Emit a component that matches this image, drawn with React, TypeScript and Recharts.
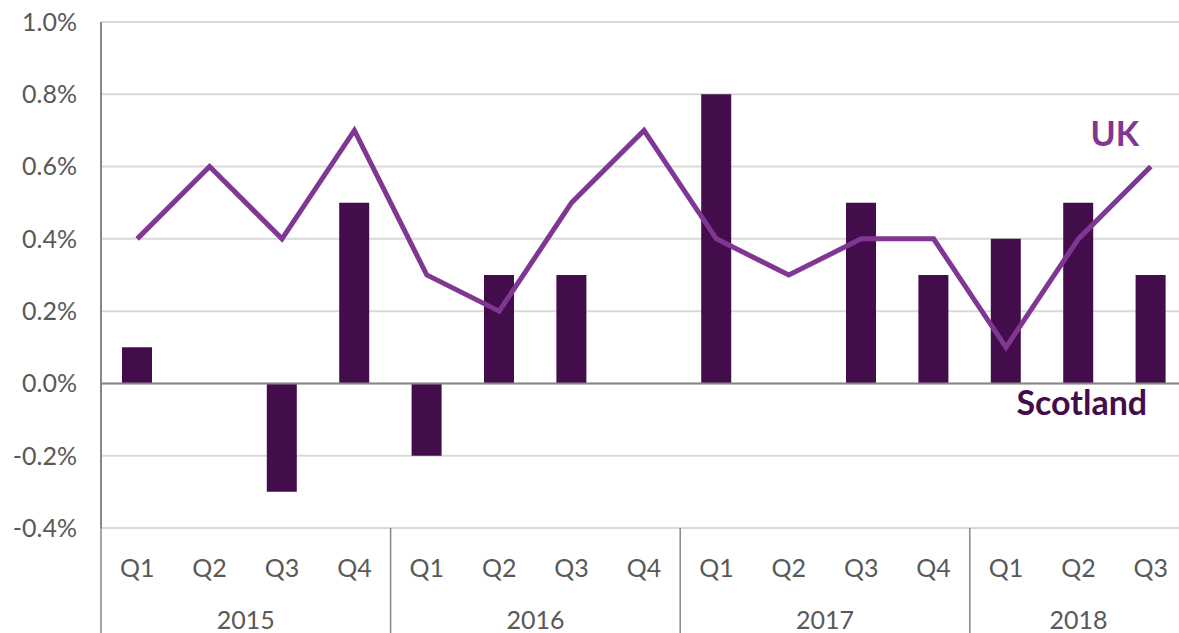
// Quarterly GDP growth: Scotland (bars) vs UK (line), 2015 Q1 – 2018 Q3.

import {
  Bar,
  CartesianGrid,
  ComposedChart,
  Line,
  ReferenceLine,
  XAxis,
  YAxis,
} from "recharts";

const quarters = ["Q1", "Q2", "Q3", "Q4", "Q1", "Q2", "Q3", "Q4", "Q1", "Q2", "Q3", "Q4", "Q1", "Q2", "Q3"];
const years = ["2015", "2015", "2015", "2015", "2016", "2016", "2016", "2016", "2017", "2017", "2017", "2017", "2018", "2018", "2018"];
const scotland = [0.1, 0, -0.3, 0.5, -0.2, 0.3, 0.3, 0, 0.8, 0, 0.5, 0.3, 0.4, 0.5, 0.3];
const uk = [0.4, 0.6, 0.4, 0.7, 0.3, 0.2, 0.5, 0.7, 0.4, 0.3, 0.4, 0.4, 0.1, 0.4, 0.6];
const yTicks = [-0.4, -0.2, 0, 0.2, 0.4, 0.6, 0.8, 1.0];

const data = quarters.map((q, i) => ({
  q,
  year: years[i],
  scotland: scotland[i],
  uk: uk[i],
}));

const W = 1187;
const H = 633;
const LEFT = 101;
const TOP = 22;
const QH = 52;
const YH = 53;
const PLOT_BOTTOM = H - QH - YH;
const BAND = (W - LEFT) / quarters.length;

const FONT = "Lato, 'Open Sans', sans-serif";
const FS = 25;
const GREY = "#595959";
const AXIS = "#878787";
const BAR = "#430d4b";
const LINE = "#7f3793";

function QuarterTick(props: any) {
  const { x, payload } = props;
  return (
    <text x={x} y={PLOT_BOTTOM + 49} textAnchor="middle" fill={GREY} fontSize={FS} fontFamily={FONT}>
      {payload.value}
    </text>
  );
}

function YearTick(props: any) {
  const { x, index } = props;
  const yr = years[index];
  if (index > 0 && years[index - 1] === yr) return null;
  const count = years.filter((y) => y === yr).length;
  const left = x - BAND / 2;
  return (
    <g>
      <line x1={left} x2={left} y1={PLOT_BOTTOM} y2={H} stroke={AXIS} strokeWidth={1.5} />
      <text
        x={x + ((count - 1) * BAND) / 2}
        y={PLOT_BOTTOM + 101}
        textAnchor="middle"
        fill={GREY}
        fontSize={FS}
        fontFamily={FONT}
      >
        {yr}
      </text>
    </g>
  );
}

// series names written beside the last quarter, as in the original
function EndLabels(props: any) {
  const { x, y, index } = props;
  if (index !== uk.length - 1) return null;
  return (
    <g fontFamily={FONT} fontWeight="bold" fontSize={34} textAnchor="middle">
      <text x={x - 36} y={y - 21} fill={LINE}>
        UK
      </text>
      <text x={x - 69} y={PLOT_BOTTOM - 113} fill={BAR}>
        Scotland
      </text>
    </g>
  );
}

export default function App() {
  return (
    <div
      style={{
        position: "fixed",
        top: 0,
        left: 0,
        width: 1179,
        height: H,
        overflow: "hidden",
        background: "#fff",
      }}
    >
      <ComposedChart
        width={W}
        height={H}
        data={data}
        margin={{ top: TOP, right: 0, bottom: 0, left: 0 }}
        barCategoryGap={0}
      >
        <CartesianGrid vertical={false} stroke="#d9d9d9" strokeWidth={2} />
        <XAxis
          xAxisId="q"
          dataKey="q"
          height={QH}
          axisLine={false}
          tickLine={false}
          interval={0}
          tick={<QuarterTick />}
        />
        <XAxis
          xAxisId="year"
          dataKey="year"
          height={YH}
          axisLine={false}
          tickLine={false}
          interval={0}
          allowDuplicatedCategory
          tick={<YearTick />}
        />
        <YAxis
          width={LEFT}
          domain={[-0.4, 1.0]}
          ticks={yTicks}
          interval={0}
          tickLine={false}
          axisLine={{ stroke: AXIS, strokeWidth: 2 }}
          tickFormatter={(v: number) => `${v.toFixed(1)}%`}
          tick={{ fill: GREY, fontSize: FS, fontFamily: FONT }}
          tickMargin={18}
        />
        <ReferenceLine y={0} xAxisId="q" stroke={AXIS} strokeWidth={2} />
        <Bar xAxisId="q" dataKey="scotland" fill={BAR} barSize={30} isAnimationActive={false} />
        <Line
          xAxisId="q"
          dataKey="uk"
          stroke={LINE}
          strokeWidth={5}
          dot={false}
          activeDot={false}
          isAnimationActive={false}
          label={<EndLabels />}
        />
      </ComposedChart>
    </div>
  );
}
